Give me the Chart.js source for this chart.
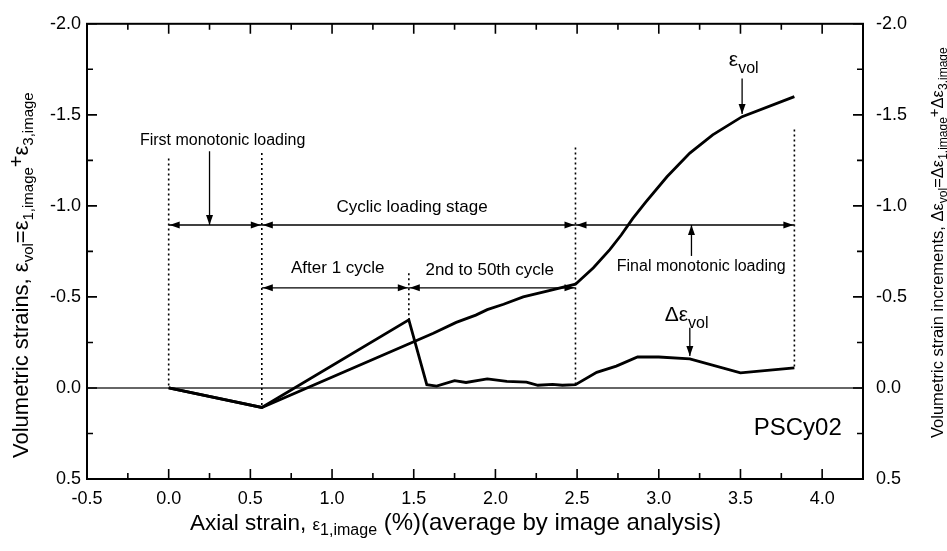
<!DOCTYPE html>
<html>
<head>
<meta charset="utf-8">
<script src="https://cdn.jsdelivr.net/npm/chart.js@4.4.1/dist/chart.umd.min.js"></script>
<style>
  html, body { margin: 0; padding: 0; background: #fff; }
  #wrap { width: 947px; height: 551px; }
</style>
</head>
<body>
<div id="wrap"><canvas id="chart" width="947" height="551"></canvas></div>
<script>
// axial strain (%) vs volumetric strain (%), negative = dilation (axis reversed)
const evolX = [0, 0.57, 1.62, 1.76, 1.88, 1.95, 2.05, 2.17, 2.31, 2.49, 2.60, 2.70, 2.77, 2.84, 2.92, 3.05, 3.19, 3.33, 3.51, 3.83];
const evolY = [0, 0.107, -0.30, -0.36, -0.40, -0.43, -0.46, -0.50, -0.53, -0.57, -0.66, -0.76, -0.84, -0.93, -1.02, -1.16, -1.29, -1.39, -1.49, -1.60];

const dvolX = [0, 0.57, 1.47, 1.58, 1.64, 1.75, 1.82, 1.95, 2.07, 2.19, 2.26, 2.35, 2.41, 2.49, 2.62, 2.74, 2.87, 3.00, 3.19, 3.50, 3.83];
const dvolY = [0, 0.107, -0.374, -0.018, -0.010, -0.040, -0.030, -0.050, -0.036, -0.032, -0.015, -0.020, -0.015, -0.018, -0.086, -0.120, -0.170, -0.170, -0.160, -0.083, -0.110];

const xTicks = [-0.5, 0.0, 0.5, 1.0, 1.5, 2.0, 2.5, 3.0, 3.5, 4.0];
const yTicks = [-2.0, -1.5, -1.0, -0.5, 0.0, 0.5];

// stage boundaries (axial strain) and the dotted markers
const stageX = [0, 0.57, 1.47, 2.49, 3.83];
const markerTop = [-1.26, -1.29, -0.63, -1.32, -1.42];
const markerBottom = [0, 0.107, -0.374, -0.018, -0.11];

const FONT = '"Liberation Sans", Arial, Helvetica, sans-serif';

function pts(xs, ys) {
  return xs.map((x, i) => ({ x: x, y: ys[i] }));
}

function arrowHead(ctx, x, y, dir) {
  // dir: where the tip points
  const L = 10, W = 3.5;
  ctx.beginPath();
  if (dir === 'l') { ctx.moveTo(x, y); ctx.lineTo(x + L, y - W); ctx.lineTo(x + L, y + W); }
  if (dir === 'r') { ctx.moveTo(x, y); ctx.lineTo(x - L, y - W); ctx.lineTo(x - L, y + W); }
  if (dir === 'u') { ctx.moveTo(x, y); ctx.lineTo(x - W, y + L); ctx.lineTo(x + W, y + L); }
  if (dir === 'd') { ctx.moveTo(x, y); ctx.lineTo(x - W, y - L); ctx.lineTo(x + W, y - L); }
  ctx.closePath();
  ctx.fill();
}

function hArrow(ctx, x1, x2, y) {
  ctx.beginPath();
  ctx.moveTo(x1, y); ctx.lineTo(x2, y); ctx.stroke();
  arrowHead(ctx, x1 + 1, y, 'l');
  arrowHead(ctx, x2 - 1, y, 'r');
}

function vArrow(ctx, x, y1, y2) {
  ctx.beginPath();
  ctx.moveTo(x, y1); ctx.lineTo(x, y2); ctx.stroke();
  arrowHead(ctx, x, y2, y2 > y1 ? 'd' : 'u');
}

function drawRich(ctx, parts, x, y, angle, align) {
  ctx.save();
  ctx.translate(x, y);
  ctx.rotate(angle);
  ctx.textAlign = 'left';
  ctx.textBaseline = 'alphabetic';
  let total = 0;
  parts.forEach(p => {
    ctx.font = p[1] + 'px ' + FONT;
    p.w = ctx.measureText(p[0]).width;
    total += p.w;
  });
  let cx = align === 'center' ? -total / 2 : (align === 'right' ? -total : 0);
  parts.forEach(p => {
    ctx.font = p[1] + 'px ' + FONT;
    ctx.fillText(p[0], cx, p[2] || 0);
    cx += p.w;
  });
  ctx.restore();
}

const leftTitle = [
  ['Volumetric strains, ', 22], ['\u03b5', 22], ['vol', 15, 5], ['=\u03b5', 22],
  ['1,image', 15, 5], ['+', 20, -5], ['\u03b5', 22], ['3,image', 15, 5]
];
const rightTitle = [
  ['Volumetric strain increments, ', 16.5], ['\u0394\u03b5', 16.5], ['vol', 12, 4], ['=\u0394\u03b5', 16.5],
  ['1,image', 12, 4], ['+', 15, -4], ['\u0394\u03b5', 16.5], ['3,image', 12, 4]
];
const xTitle = [
  ['Axial strain, ', 22.5], ['\u03b5', 17], ['1,image', 16, 5], [' (%)(average by image analysis)', 24]
];

const decor = {
  id: 'decor',
  beforeDatasetsDraw(chart) {
    const ctx = chart.ctx, a = chart.chartArea;
    const sx = chart.scales.x, sy = chart.scales.y;
    ctx.save();
    // zero line
    ctx.strokeStyle = '#333';
    ctx.lineWidth = 1.5;
    ctx.beginPath();
    ctx.moveTo(a.left, sy.getPixelForValue(0));
    ctx.lineTo(a.right, sy.getPixelForValue(0));
    ctx.stroke();
    // dotted stage markers
    ctx.strokeStyle = '#000';
    ctx.lineWidth = 1.6;
    ctx.setLineDash([2, 3]);
    stageX.forEach((v, i) => {
      const px = sx.getPixelForValue(v);
      ctx.beginPath();
      ctx.moveTo(px, sy.getPixelForValue(markerTop[i]));
      ctx.lineTo(px, sy.getPixelForValue(markerBottom[i]));
      ctx.stroke();
    });
    ctx.restore();
  },
  afterDatasetsDraw(chart) {
    const ctx = chart.ctx, a = chart.chartArea;
    const sx = chart.scales.x, sy = chart.scales.y;
    const X = v => sx.getPixelForValue(v), Y = v => sy.getPixelForValue(v);
    ctx.save();
    ctx.strokeStyle = '#000';
    ctx.fillStyle = '#000';
    ctx.lineWidth = 1.3;

    // stage arrows
    const yTop = Y(-0.895), yLow = Y(-0.55);
    hArrow(ctx, X(stageX[0]), X(stageX[1]), yTop);
    hArrow(ctx, X(stageX[1]), X(stageX[3]), yTop);
    hArrow(ctx, X(stageX[3]), X(stageX[4]), yTop);
    hArrow(ctx, X(stageX[1]), X(stageX[2]), yLow);
    hArrow(ctx, X(stageX[2]), X(stageX[3]), yLow);

    vArrow(ctx, X(0.25), Y(-1.30), yTop);
    vArrow(ctx, X(3.20), Y(-0.725), yTop);
    vArrow(ctx, X(3.51), Y(-1.70), Y(-1.505));
    vArrow(ctx, X(3.19), Y(-0.33), Y(-0.175));

    // stage labels
    ctx.textAlign = 'center';
    ctx.textBaseline = 'middle';
    ctx.font = '16px ' + FONT;
    ctx.fillText('First monotonic loading', X(0.33), Y(-1.36));
    ctx.fillText('Final monotonic loading', X(3.26), Y(-0.665));
    ctx.font = '17px ' + FONT;
    ctx.fillText('Cyclic loading stage', X(1.49), Y(-0.99));
    ctx.fillText('After 1 cycle', X(1.035), Y(-0.655));
    ctx.fillText('2nd to 50th cycle', X(1.965), Y(-0.645));
    ctx.font = '24px ' + FONT;
    ctx.textAlign = 'right';
    ctx.fillText('PSCy02', X(4.12), Y(0.22));

    drawRich(ctx, [['\u03b5', 21], ['vol', 16, 7]], X(3.52), Y(-1.77), 0, 'center');
    drawRich(ctx, [['\u0394\u03b5', 21], ['vol', 16, 7]], X(3.17), Y(-0.37), 0, 'center');

    // frame
    ctx.lineWidth = 2;
    ctx.strokeRect(a.left, a.top, a.right - a.left, a.bottom - a.top);

    // inward ticks, major + minor
    ctx.lineWidth = 1.6;
    ctx.beginPath();
    xTicks.forEach(v => {
      [[v, 10], [v + 0.25, 6]].forEach(t => {
        if (t[0] > sx.max) return;
        const px = X(t[0]);
        ctx.moveTo(px, a.bottom); ctx.lineTo(px, a.bottom - t[1]);
        ctx.moveTo(px, a.top); ctx.lineTo(px, a.top + t[1]);
      });
    });
    yTicks.forEach(v => {
      [[v, 10], [v + 0.25, 6]].forEach(t => {
        if (t[0] > sy.max) return;
        const py = Y(t[0]);
        ctx.moveTo(a.left, py); ctx.lineTo(a.left + t[1], py);
        ctx.moveTo(a.right, py); ctx.lineTo(a.right - t[1], py);
      });
    });
    ctx.stroke();

    // axis titles
    drawRich(ctx, leftTitle, 28, 458, -Math.PI / 2, 'left');
    drawRich(ctx, rightTitle, 943, 438, -Math.PI / 2, 'left');
    drawRich(ctx, xTitle, 190, 530, 0, 'left');
    ctx.restore();
  }
};

const tickFont = { family: FONT, size: 18 };
const fmt = v => Number(v).toFixed(1);

new Chart(document.getElementById('chart'), {
  type: 'scatter',
  data: {
    datasets: [
      { label: 'evol', data: pts(evolX, evolY) },
      { label: 'dvol', data: pts(dvolX, dvolY) }
    ]
  },
  options: {
    responsive: false,
    animation: false,
    devicePixelRatio: 1,
    showLine: true,
    layout: { padding: { top: 16, left: 0, right: 0, bottom: 0 } },
    elements: {
      point: { radius: 0 },
      line: { borderColor: '#000', borderWidth: 2.8, tension: 0 }
    },
    plugins: {
      legend: { display: false },
      tooltip: { enabled: false }
    },
    scales: {
      x: {
        type: 'linear',
        min: -0.5,
        max: 4.25,
        afterBuildTicks: s => { s.ticks = xTicks.map(v => ({ value: v })); },
        afterFit: s => { s.height = 72; },
        ticks: { font: tickFont, color: '#000', padding: 9, callback: fmt, maxRotation: 0 },
        grid: { display: false, drawTicks: false },
        border: { display: false }
      },
      y: {
        type: 'linear',
        position: 'left',
        reverse: true,
        min: -2.0,
        max: 0.5,
        afterBuildTicks: s => { s.ticks = yTicks.map(v => ({ value: v })); },
        afterFit: s => { s.width = 87; },
        ticks: { font: tickFont, color: '#000', padding: 6, callback: fmt },
        grid: { display: false, drawTicks: false },
        border: { display: false }
      },
      y2: {
        type: 'linear',
        position: 'right',
        reverse: true,
        min: -2.0,
        max: 0.5,
        afterBuildTicks: s => { s.ticks = yTicks.map(v => ({ value: v })); },
        afterFit: s => { s.width = 84; },
        ticks: { font: tickFont, color: '#000', padding: 13, callback: fmt },
        grid: { display: false, drawTicks: false },
        border: { display: false }
      }
    }
  },
  plugins: [decor]
});
</script>
</body>
</html>
